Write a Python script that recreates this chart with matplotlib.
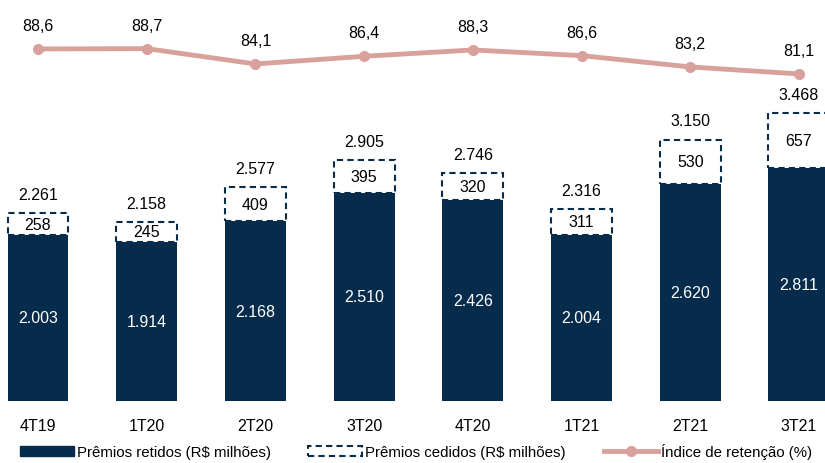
import matplotlib
matplotlib.use("Agg")
import matplotlib.pyplot as plt
from matplotlib.patches import Patch
from matplotlib.lines import Line2D
import numpy as np

categories = ["4T19", "1T20", "2T20", "3T20", "4T20", "1T21", "2T21", "3T21"]
retidos = [2003, 1914, 2168, 2510, 2426, 2004, 2620, 2811]
cedidos = [258, 245, 409, 395, 320, 311, 530, 657]
totais = [2261, 2158, 2577, 2905, 2746, 2316, 3150, 3468]
retencao = [88.6, 88.7, 84.1, 86.4, 88.3, 86.6, 83.2, 81.1]

navy = "#062B4B"
pink = "#D9A19C"
FONT = ["Liberation Sans Narrow", "Liberation Sans", "DejaVu Sans"]
plt.rcParams["font.family"] = FONT

def br_int(v):
    return f"{v:,}".replace(",", ".")

def br_dec(v):
    return f"{v:.1f}".replace(".", ",")

fig = plt.figure(figsize=(8.25, 4.64), dpi=100)
ax = fig.add_axes([0, 62 / 464, 1, 402 / 464])
x = np.arange(len(categories))
w = 0.56

ax.bar(x, retidos, width=w, color=navy, zorder=2)
ax.bar(x, cedidos, bottom=retidos, width=w, facecolor="white", edgecolor=navy,
       linestyle=(0, (3, 2)), linewidth=1.5, zorder=3)

fs = 11.5
for i in range(len(x)):
    ax.text(x[i], retidos[i] / 2, br_int(retidos[i]), ha="center", va="center",
            color="white", fontsize=fs, zorder=5)
    ax.text(x[i], retidos[i] + cedidos[i] / 2, br_int(cedidos[i]), ha="center", va="center",
            color="black", fontsize=fs, zorder=5)
    ax.annotate(br_int(totais[i]), (x[i], totais[i]), xytext=(0, 8), textcoords="offset points",
                ha="center", va="bottom", fontsize=fs, color="black")

ax.set_xlim(-0.35, 7.24)
ax.set_ylim(0, 4843)
ax.set_xticks(x)
ax.set_xticklabels(categories, fontsize=fs)
ax.tick_params(axis="x", length=0, pad=12)
ax.set_yticks([])
for s in ax.spines.values():
    s.set_visible(False)

ax2 = ax.twinx()
ax2.plot(x, retencao, color=pink, linewidth=3.5, marker="o", markersize=7, zorder=4)
for i in range(len(x)):
    ax2.annotate(br_dec(retencao[i]), (x[i], retencao[i]), xytext=(0, 11.5), textcoords="offset points",
                 ha="center", va="bottom", fontsize=fs, color="black")
ax2.set_ylim(-17.1, 103.6)
ax2.set_yticks([])
for s in ax2.spines.values():
    s.set_visible(False)

handles = [
    Patch(facecolor=navy, edgecolor=navy),
    Patch(facecolor="white", edgecolor=navy, linestyle=(0, (3, 2)), linewidth=1.5),
    Line2D([], [], color=pink, linewidth=3.5, marker="o", markersize=7),
]
labels = ["Prêmios retidos (R$ milhões)", "Prêmios cedidos (R$ milhões)", "Índice de retenção (%)"]
fig.legend(handles, labels, loc="center", bbox_to_anchor=(0.504, 1 - 452 / 464), ncol=3,
           frameon=False, fontsize=10.8, handlelength=3.6, handletextpad=0.2,
           columnspacing=2.5, borderaxespad=0, borderpad=0)

fig.savefig("out.png", dpi=100)
